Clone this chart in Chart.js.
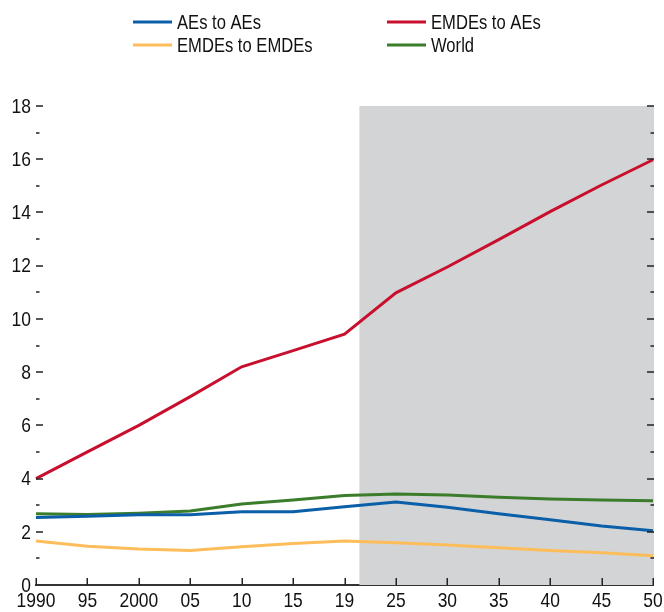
<!DOCTYPE html>
<html>
<head>
<meta charset="utf-8">
<script src="https://cdn.jsdelivr.net/npm/chart.js@4.4.1/dist/chart.umd.min.js"></script>
<style>
  html, body { margin: 0; padding: 0; background: #ffffff; }
  #chart { display: block; }
</style>
</head>
<body>
<canvas id="chart" width="664" height="612"></canvas>
<script>
// Years on the horizontal axis (evenly spaced categories)
const years = ['1990', '95', '2000', '05', '10', '15', '19', '25', '30', '35', '40', '45', '50'];

// Series
const aesToAes      = [2.54, 2.58, 2.64, 2.64, 2.75, 2.75, 2.94, 3.12, 2.92, 2.68, 2.45, 2.22, 2.04];
const emdesToAes    = [4.0, 5.0, 6.0, 7.08, 8.2, 8.81, 9.43, 10.98, 11.95, 12.98, 14.03, 15.03, 15.98];
const emdesToEmdes  = [1.65, 1.46, 1.35, 1.30, 1.44, 1.56, 1.65, 1.59, 1.50, 1.40, 1.30, 1.21, 1.10];
const world         = [2.68, 2.65, 2.70, 2.78, 3.04, 3.19, 3.36, 3.42, 3.38, 3.30, 3.23, 3.19, 3.17];

// Projection period starts a little after the last observed year (category index)
const projectionStart = 6.29;

// Y-axis range and label step
const yMin = 0, yMax = 18, yStep = 2;

const series = [
  { label: 'AEs to AEs',     data: aesToAes,     color: '#0b5ea8' },
  { label: 'EMDEs to AEs',   data: emdesToAes,   color: '#c8102e' },
  { label: 'EMDEs to EMDEs', data: emdesToEmdes, color: '#fdbd5a' },
  { label: 'World',          data: world,        color: '#3b7d2b' }
];

const AXIS_FONT = "21px 'Liberation Sans', Arial, sans-serif";
const LEGEND_FONT = "20px 'Liberation Sans', Arial, sans-serif";
const SQUEEZE = 0.83; // condensed look for all text

// Draws text horizontally condensed around its anchor
function condensedText(ctx, text, x, y) {
  ctx.save();
  ctx.translate(x, y);
  ctx.scale(SQUEEZE, 1);
  ctx.fillText(text, 0, 0);
  ctx.restore();
}

// Shaded projection band behind the lines
const shadePlugin = {
  id: 'shade',
  beforeDatasetsDraw(chart) {
    const { ctx, chartArea, scales } = chart;
    const x0 = scales.x.getPixelForValue(projectionStart);
    const yTop = scales.y.getPixelForValue(yMax);
    ctx.save();
    ctx.fillStyle = '#d3d4d6';
    ctx.fillRect(x0, yTop, chartArea.right + 1 - x0, chartArea.bottom - yTop);
    ctx.restore();
  }
};

// Inward tick marks, condensed tick labels and a two-column legend
const decorPlugin = {
  id: 'decor',
  afterDatasetsDraw(chart) {
    const { ctx, chartArea, scales } = chart;
    const xs = scales.x, ys = scales.y;
    ctx.save();
    ctx.strokeStyle = '#222';
    ctx.lineWidth = 1.5;
    ctx.beginPath();
    for (let i = 0; i < years.length; i++) {
      const px = Math.round(xs.getPixelForValue(i)) + 0.25;
      ctx.moveTo(px, chartArea.bottom);
      ctx.lineTo(px, chartArea.bottom - 7);
    }
    for (let v = yMin + 1; v <= yMax; v++) {
      const py = Math.round(ys.getPixelForValue(v));
      const len = (v % yStep === 0) ? 7 : 3.5;
      ctx.moveTo(chartArea.left, py);
      ctx.lineTo(chartArea.left + len, py);
      ctx.moveTo(chartArea.right + 1, py);
      ctx.lineTo(chartArea.right + 1 - len, py);
    }
    ctx.stroke();

    ctx.fillStyle = '#111';
    ctx.font = AXIS_FONT;
    ctx.textAlign = 'center';
    ctx.textBaseline = 'top';
    years.forEach((lab, i) => condensedText(ctx, lab, xs.getPixelForValue(i), chartArea.bottom + 6));

    ctx.textAlign = 'right';
    ctx.textBaseline = 'middle';
    for (let v = yMin; v <= yMax; v += yStep) {
      condensedText(ctx, String(v), chartArea.left - 5, ys.getPixelForValue(v) + 1);
    }

    // legend
    const cols = [133, 387];
    const rows = [22, 45];
    ctx.font = LEGEND_FONT;
    ctx.textAlign = 'left';
    ctx.textBaseline = 'alphabetic';
    chart.data.datasets.forEach((ds, i) => {
      const x = cols[i % 2];
      const y = rows[Math.floor(i / 2)];
      ctx.fillStyle = ds.borderColor;
      ctx.fillRect(x, y - 1.5, 39, 3);
      ctx.fillStyle = '#111';
      condensedText(ctx, ds.label, x + 44, y + 7.3);
    });
    ctx.restore();
  }
};

const chart = new Chart(document.getElementById('chart'), {
  type: 'line',
  data: {
    labels: years,
    datasets: series.map(s => ({
      label: s.label,
      data: s.data,
      borderColor: s.color,
      backgroundColor: s.color,
      borderWidth: 3,
      pointRadius: 0,
      tension: 0,
      fill: false
    }))
  },
  options: {
    responsive: false,
    animation: false,
    layout: { padding: { top: 106, right: 11, left: 0, bottom: 0 } },
    plugins: { legend: { display: false }, tooltip: { enabled: false } },
    scales: {
      x: {
        type: 'category',
        offset: false,
        grid: { display: false, drawTicks: false },
        border: { display: true, color: '#333', width: 2 },
        ticks: { display: false },
        afterFit(scale) { scale.height = 27; }
      },
      y: {
        min: yMin, max: yMax,
        grid: { display: false, drawTicks: false },
        border: { display: false },
        ticks: { display: false, stepSize: yStep },
        afterFit(scale) { scale.width = 36; }
      }
    }
  },
  plugins: [shadePlugin, decorPlugin]
});
</script>
</body>
</html>
